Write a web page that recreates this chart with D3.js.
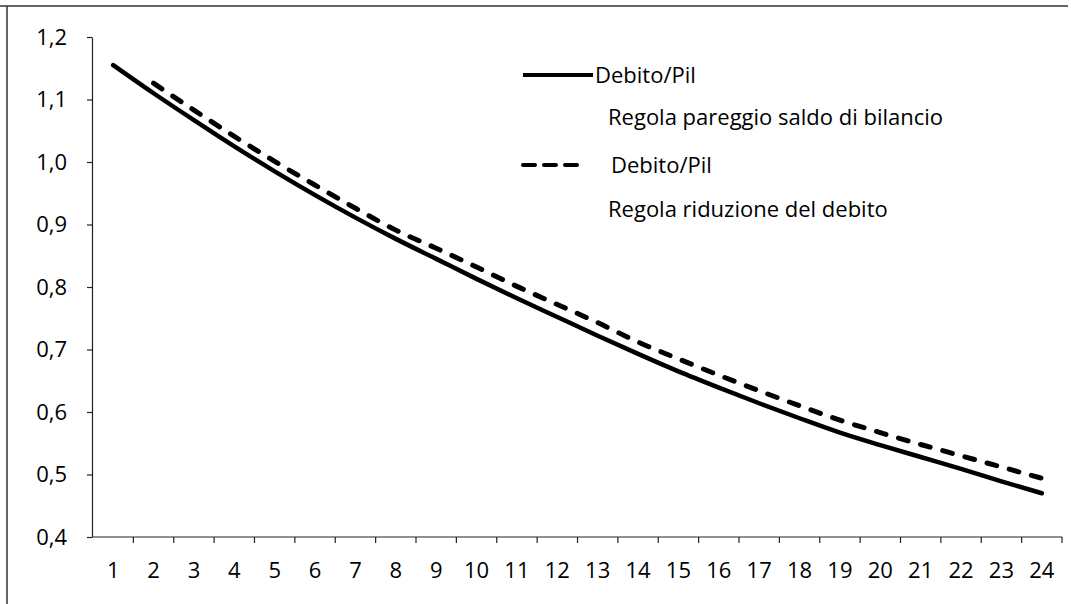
<!DOCTYPE html>
<html>
<head>
<meta charset="utf-8">
<script src="https://cdn.jsdelivr.net/npm/d3@7"></script>
<style>
  body { margin: 0; background: #fff; }
  svg { display: block; }
  .axis text { font-family: "Open Sans", Lato, sans-serif; font-size: 22px; fill: #000; }
  .axis path, .axis line { stroke: #222; stroke-width: 1.2; }
  .legend text { font-family: "Open Sans", Lato, sans-serif; font-size: 22px; fill: #000; }
</style>
</head>
<body>
<div id="chart"></div>
<script>
// periods on the x axis
var periods = d3.range(1, 25);

// Debito/Pil - Regola pareggio saldo di bilancio (solid)
var pareggio = [1.155, 1.110, 1.067, 1.025, 0.985, 0.947, 0.911, 0.877, 0.845, 0.813,
                0.782, 0.752, 0.722, 0.693, 0.665, 0.639, 0.614, 0.590, 0.567, 0.547,
                0.528, 0.509, 0.489, 0.470];

// Debito/Pil - Regola riduzione del debito (dashed), starts at period 2
var riduzione = [null, 1.126, 1.083, 1.041, 1.001, 0.963, 0.926, 0.891, 0.862, 0.832,
                 0.801, 0.772, 0.743, 0.712, 0.685, 0.659, 0.634, 0.610, 0.587, 0.567,
                 0.548, 0.530, 0.512, 0.494];

var yTicks = [0.4, 0.5, 0.6, 0.7, 0.8, 0.9, 1.0, 1.1, 1.2];

var legendItems = [
  {label1: "Debito/Pil", label2: "Regola pareggio saldo di bilancio", dash: null},
  {label1: "Debito/Pil", label2: "Regola riduzione del debito", dash: "12,9"}
];

var width = 1078, height = 604;
var margin = {top: 37, left: 92, right: 16, bottom: 67};

var svg = d3.select("#chart").append("svg")
    .attr("width", width)
    .attr("height", height);

// frame (top and left edges only, like the scan)
svg.append("line")
    .attr("x1", 0).attr("x2", 1068).attr("y1", 6).attr("y2", 6)
    .attr("stroke", "#333").attr("stroke-width", 1.5);
svg.append("line")
    .attr("x1", 7).attr("x2", 7).attr("y1", 6).attr("y2", height)
    .attr("stroke", "#333").attr("stroke-width", 1.5);

var xScale = d3.scaleBand()
    .domain(periods)
    .range([margin.left + 1, 1062]);

var yScale = d3.scaleLinear()
    .domain([0.4, 1.2])
    .range([height - margin.bottom, margin.top]);

var fmt = function(d) { return d3.format(".1f")(d).replace(".", ","); };

// y axis
var yAxis = svg.append("g")
    .attr("class", "axis")
    .attr("transform", "translate(" + margin.left + ",0)")
    .call(d3.axisLeft(yScale).tickValues(yTicks).tickFormat(fmt).tickSize(5).tickSizeOuter(0).tickPadding(20));

// x axis with ticks on category boundaries
var xAxisG = svg.append("g")
    .attr("class", "axis")
    .attr("transform", "translate(0," + yScale(0.4) + ")");
xAxisG.append("line")
    .attr("x1", margin.left).attr("x2", xScale.range()[1]);
xAxisG.selectAll(".tickmark")
    .data(periods)
    .join("line")
    .attr("class", "tickmark")
    .attr("x1", function(d) { return xScale(d) + xScale.bandwidth(); })
    .attr("x2", function(d) { return xScale(d) + xScale.bandwidth(); })
    .attr("y1", 0).attr("y2", 6);
xAxisG.selectAll(".ticklabel")
    .data(periods)
    .join("text")
    .attr("class", "ticklabel")
    .attr("x", function(d) { return xScale(d) + xScale.bandwidth() / 2; })
    .attr("y", 33)
    .attr("dy", "0.35em")
    .attr("text-anchor", "middle")
    .text(function(d) { return d; });

var line = d3.line()
    .defined(function(d) { return d != null; })
    .x(function(d, i) { return xScale(periods[i]) + xScale.bandwidth() / 2; })
    .y(function(d) { return yScale(d); })
    .curve(d3.curveMonotoneX);

svg.append("path")
    .datum(pareggio)
    .attr("d", line)
    .attr("fill", "none")
    .attr("stroke", "#000")
    .attr("stroke-width", 4.5)
    .attr("stroke-linecap", "round");

svg.append("path")
    .datum(riduzione)
    .attr("d", line)
    .attr("fill", "none")
    .attr("stroke", "#000")
    .attr("stroke-width", 5)
    .attr("stroke-dasharray", "10,13")
    .attr("stroke-linecap", "round");

// legend
var legend = svg.append("g").attr("class", "legend");
var lg = legend.selectAll("g")
    .data(legendItems)
    .join("g")
    .attr("transform", function(d, i) { return "translate(0," + (75 + i * 90) + ")"; });

lg.append("line")
    .attr("x1", 523).attr("x2", function(d) { return d.dash ? 581 : 593; })
    .attr("y1", 0).attr("y2", 0)
    .attr("stroke", "#000")
    .attr("stroke-width", 4)
    .attr("stroke-dasharray", function(d) { return d.dash; })
    .attr("stroke-linecap", function(d) { return d.dash ? "round" : "butt"; });

lg.append("text")
    .attr("x", function(d) { return d.dash ? 611 : 595; })
    .attr("y", 0)
    .attr("dy", "0.35em")
    .text(function(d) { return d.label1; });

lg.append("text")
    .attr("x", 608)
    .attr("y", function(d) { return d.dash ? 44 : 42; })
    .attr("dy", "0.35em")
    .text(function(d) { return d.label2; });
</script>
</body>
</html>
